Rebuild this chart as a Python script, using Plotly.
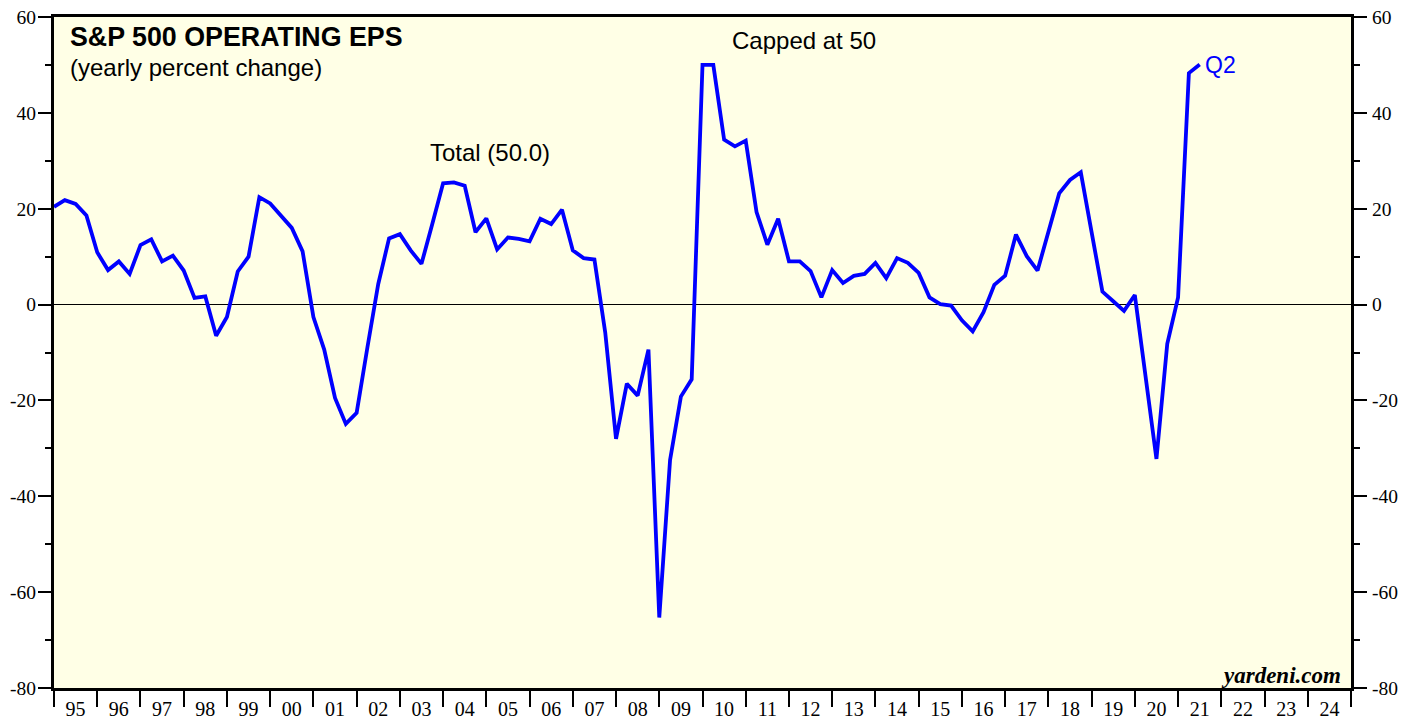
import plotly.graph_objects as go

# Quarterly S&P 500 operating EPS, yearly % change (Q4 1994 ... Q2 2021), capped at 50
eps_yoy = [
    20.4, 21.8, 21.0, 18.6, 10.9, 7.2, 9.0, 6.4, 12.4, 13.6,
    9.0, 10.2, 7.1, 1.4, 1.7, -6.5, -2.6, 6.9, 10.0, 22.4,
    21.1, 18.6, 16.0, 11.1, -2.6, -9.4, -19.5, -24.9, -22.6, -8.9,
    4.3, 13.8, 14.7, 11.3, 8.5, 16.8, 25.3, 25.5, 24.8, 15.1,
    18.0, 11.5, 14.0, 13.7, 13.2, 17.9, 16.8, 19.8, 11.3, 9.7,
    9.4, -5.8, -28.0, -16.5, -19.0, -9.4, -65.3, -32.4, -19.2, -15.6,
    50.0, 50.0, 34.4, 33.0, 34.2, 19.3, 12.5, 17.9, 9.0, 9.0,
    7.0, 1.5, 7.2, 4.5, 6.0, 6.4, 8.7, 5.5, 9.7, 8.7,
    6.6, 1.5, 0.1, -0.2, -3.3, -5.6, -1.6, 4.1, 6.0, 14.6,
    10.1, 7.1, 15.2, 23.2, 26.0, 27.6, 15.1, 2.7, 0.7, -1.3,
    2.0, -15.0, -32.2, -8.2, 1.5, 48.3, 50.1,
]
start_year = 1995.0          # first observation (end of Q4 1994)
quarter_step = 0.25
x_years = [start_year + i * quarter_step for i in range(len(eps_yoy))]

year_labels = ["95", "96", "97", "98", "99", "00", "01", "02", "03", "04",
               "05", "06", "07", "08", "09", "10", "11", "12", "13", "14",
               "15", "16", "17", "18", "19", "20", "21", "22", "23", "24"]
label_pos = [1995.5 + k for k in range(len(year_labels))]
y_ticks = [-80, -60, -40, -20, 0, 20, 40, 60]
y_tick_text = ["-80", "-60", "-40", "-20", "0", "20", "40", "60"]

fig = go.Figure()
fig.add_trace(go.Scatter(
    x=x_years, y=eps_yoy, mode="lines",
    line=dict(color="#0000FF", width=3.8),
    showlegend=False, hoverinfo="x+y",
))
fig.add_trace(go.Scatter(x=[None], y=[None], yaxis="y2", showlegend=False,
                         hoverinfo="skip"))

# page has an 8px body margin; figure is sized so the plot area lands at
# page x 54..1351, y 17..688
BODY = 8
W, H = 1416 - BODY, 719 - BODY
PL, PR, PT, PB = 54, 1351, 17, 688          # plot area in page pixels
L, T = PL - BODY, PT - BODY
R, B = W - (PR - BODY), H - (PB - BODY)


def px(xp):
    return (xp - PL) / (PR - PL)


def py(yp):
    return (PB - yp) / (PB - PT)


serif = "Liberation Serif, Times New Roman, serif"
sans = "Liberation Sans, Arial, sans-serif"

yaxis_common = dict(
    range=[-80, 60], tickvals=y_ticks, ticktext=y_tick_text,
    ticks="outside", ticklen=13,
    tickwidth=2, tickcolor="black", showline=True, linewidth=3,
    linecolor="black", showgrid=False, automargin=False,
    tickfont=dict(family=serif, size=19.5, color="black"),
    ticklabeloverflow="allow",
    minor=dict(dtick=10, tick0=0, ticks="outside", ticklen=6, tickwidth=2,
               tickcolor="black", showgrid=False),
)

fig.update_layout(
    width=W, height=H,
    margin=dict(l=L, r=R, t=T, b=B, pad=0, autoexpand=False),
    paper_bgcolor="white", plot_bgcolor="#FFFFE6",
    xaxis=dict(
        range=[1995, 2025], tickvals=label_pos, ticktext=year_labels,
        ticks="", showline=True, linewidth=3, linecolor="black",
        mirror=True, showgrid=False, zeroline=False, automargin=False,
        tickfont=dict(family=serif, size=20, color="black"),
        ticklabelstandoff=1, ticklabeloverflow="allow",
        minor=dict(dtick=1, tick0=1995, ticks="outside", ticklen=16,
                   tickwidth=2, tickcolor="black", showgrid=False),
    ),
    yaxis=dict(**yaxis_common, ticklabelstandoff=-2, zeroline=True,
               zerolinecolor="black", zerolinewidth=1),
    yaxis2=dict(**yaxis_common, ticklabelstandoff=1, overlaying="y",
                side="right", zeroline=False),
    annotations=[
        dict(text="<b>S&P 500 OPERATING EPS</b>", xref="paper", yref="paper",
             x=px(68), y=py(37), xanchor="left", yanchor="middle",
             showarrow=False, font=dict(family=sans, size=26.8, color="black")),
        dict(text="(yearly percent change)", xref="paper", yref="paper",
             x=px(68), y=py(67), xanchor="left", yanchor="middle",
             showarrow=False, font=dict(family=sans, size=24, color="black")),
        dict(text="Total (50.0)", xref="paper", yref="paper",
             x=px(428), y=py(152), xanchor="left", yanchor="middle",
             showarrow=False, font=dict(family=sans, size=24, color="black")),
        dict(text="Capped at 50", xref="paper", yref="paper",
             x=px(730), y=py(41), xanchor="left", yanchor="middle",
             showarrow=False, font=dict(family=sans, size=24, color="black")),
        dict(text="Q2", xref="paper", yref="paper",
             x=px(1203), y=py(65), xanchor="left", yanchor="middle",
             showarrow=False, font=dict(family=sans, size=23, color="#0000FF")),
        dict(text="<b><i>yardeni.com</i></b>", xref="paper", yref="paper",
             x=px(1343), y=py(675), xanchor="right", yanchor="middle",
             showarrow=False, font=dict(family=serif, size=23, color="black")),
    ],
)

fig.write_html("out.html")
